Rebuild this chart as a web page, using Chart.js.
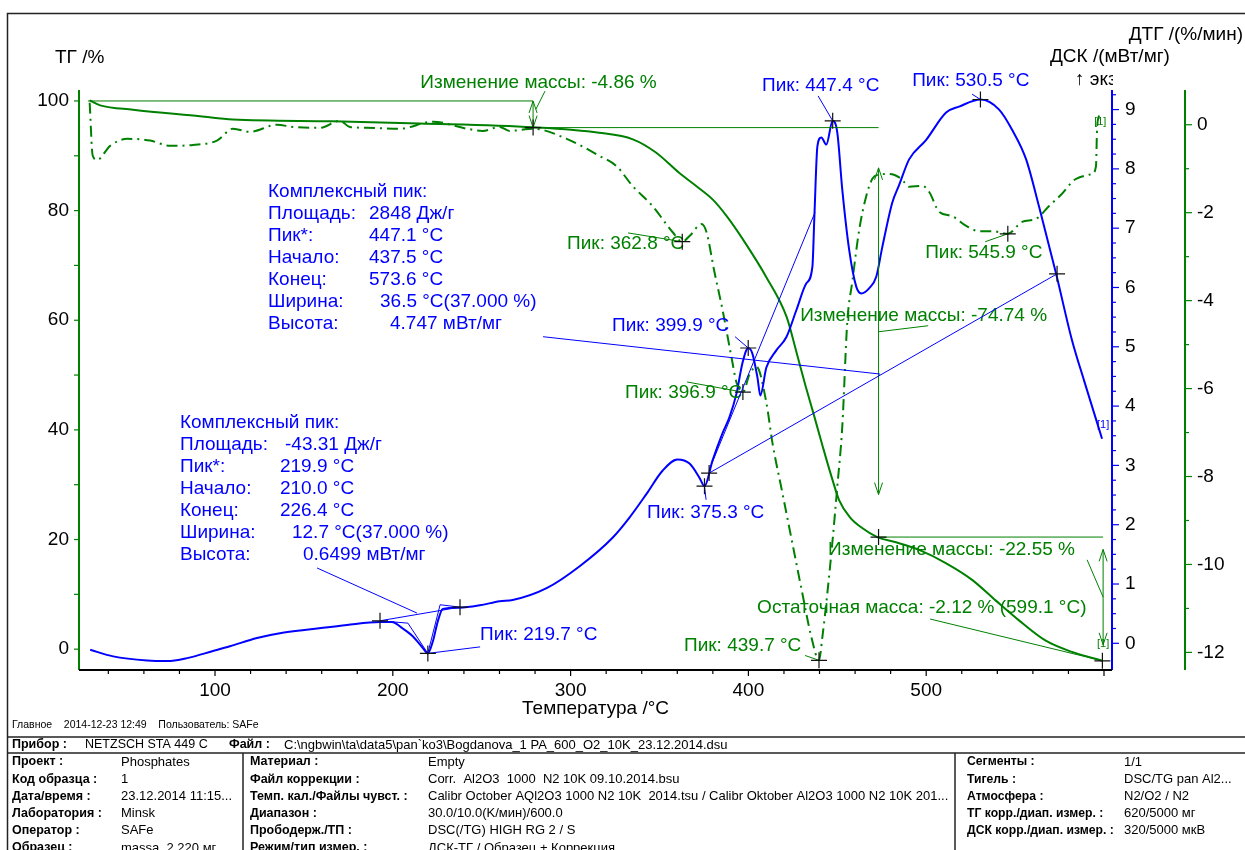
<!DOCTYPE html>
<html lang="ru">
<head>
<meta charset="UTF-8">
<title>NETZSCH STA 449 C - ТГ / ДТГ / ДСК</title>
<script src="https://cdn.jsdelivr.net/npm/chart.js"></script>
<style>
body{margin:0;background:#fff;}
#wrap{position:relative;width:1245px;height:850px;overflow:hidden;}
canvas{display:block;}
</style>
</head>
<body>
<div id="wrap"><canvas id="sta" width="1245" height="850"></canvas></div>
<script>

// ---- data ----
const tempTicks = [100, 200, 300, 400, 500];
const tgTicks = [0, 20, 40, 60, 80, 100];
const dscTicks = [0, 1, 2, 3, 4, 5, 6, 7, 8, 9];
const dtgTicks = [0, -2, -4, -6, -8, -10, -12];

// ТГ /%
const tgTemp = [29.5, 35.4, 53.9, 91.6, 110, 166, 215, 279, 316, 335, 348, 361, 371, 380, 388, 397, 410, 421.5, 427, 432, 436.5, 441.6, 447, 451, 457, 464, 472.5, 483, 496, 511, 526, 539, 552, 567, 582, 599.1];
const tgMass = [100.1, 99.2, 98.4, 97.2, 96.6, 96.3, 95.9, 95.2, 94.2, 93.0, 90.6, 86.9, 84.4, 82.0, 78.9, 74.7, 67.9, 60.6, 54.2, 48.2, 43.1, 37.2, 31.2, 27.2, 24.1, 22.1, 20.45, 19.5, 18.1, 15.7, 12.6, 8.9, 5.3, 1.6, -0.5, -2.12];

// ДТГ /(%/мин)
const dtgTemp = [29.5, 31.2, 33.7, 41, 50.6, 63.5, 74.7, 87.6, 101.1, 110.1, 119.7, 134.8, 143.8, 159, 170.2, 175.8, 185.4, 203.9, 222.5, 241.6, 250.6, 260.1, 265.7, 278.7, 297.8, 316.3, 325.8, 334.8, 346.1, 357.3, 362.8, 366.9, 373.6, 376.4, 380.9, 385.4, 390.4, 393.3, 396.9, 400.6, 404.5, 410.1, 413.5, 419.1, 424.7, 430.3, 435.4, 439.7, 441.6, 444.4, 447.2, 450, 452.8, 455.6, 458.4, 462.4, 466.3, 469.7, 472.5, 479.2, 486, 490.4, 497.8, 501.7, 507.3, 514.6, 522.5, 529.8, 537.1, 545.9, 553.9, 561.8, 569.1, 576.4, 584.3, 593.3, 595.5, 596.1, 597.2];
const dtgRate = [0.5, -0.7, -0.8, -0.48, -0.32, -0.36, -0.48, -0.46, -0.36, -0.09, -0.16, 0, -0.05, -0.07, 0.09, -0.05, -0.07, -0.09, 0.07, -0.09, -0.14, -0.05, -0.14, -0.09, -0.32, -0.71, -0.94, -1.39, -1.85, -2.44, -2.66, -2.53, -2.26, -2.44, -3.35, -4.2, -5.27, -5.86, -6.08, -5.68, -5.5, -6.32, -7.23, -8.37, -9.51, -10.65, -11.65, -12.18, -11.65, -10.65, -9.51, -8.23, -6.86, -4.49, -3.58, -2.37, -1.62, -1.23, -1.14, -1.12, -1.23, -1.41, -1.39, -1.53, -1.98, -2.08, -2.3, -2.42, -2.42, -2.48, -2.21, -2.14, -1.85, -1.57, -1.23, -1.12, -0.94, -0.09, 0.21];

// ДСК /(мВт/мг)
const dscTemp = [29.8, 42.7, 61.8, 73, 84.3, 98.9, 108.4, 123.6, 136.5, 155.1, 174.2, 192.7, 199.4, 205.6, 211.2, 216.9, 219.7, 222.5, 225.3, 228.1, 237.6, 248.9, 260.1, 267.4, 286.5, 305.1, 323.6, 333.1, 342.7, 351.7, 360.1, 366.9, 372.5, 375.3, 379.8, 385.4, 389.3, 393.3, 396.6, 399.9, 402.2, 405.1, 406.7, 410.1, 415.7, 421.3, 427, 432.6, 436, 437.1, 438.8, 441, 443.8, 447.4, 450, 452.8, 456.7, 460.7, 463.5, 468, 471.9, 475.3, 480.9, 484.8, 490.4, 500, 511.2, 518.5, 530.5, 541, 548.3, 556.2, 563.5, 573, 582, 588.8, 598.9];
const dscFlow = [-0.11, -0.22, -0.29, -0.3, -0.25, -0.13, -0.05, 0.09, 0.17, 0.24, 0.31, 0.36, 0.36, 0.25, 0.12, -0.08, -0.17, 0.03, 0.37, 0.58, 0.6, 0.64, 0.71, 0.73, 0.93, 1.3, 1.78, 2.12, 2.52, 2.91, 3.1, 3.03, 2.79, 2.65, 3.08, 3.54, 3.81, 4.21, 4.72, 4.98, 4.89, 4.48, 4.18, 4.65, 4.94, 5.16, 5.62, 6.07, 6.35, 7.19, 8.38, 8.53, 8.41, 8.81, 8.61, 7.65, 6.63, 6.01, 5.9, 5.99, 6.18, 6.68, 7.43, 7.73, 8.16, 8.49, 8.95, 9.05, 9.17, 9.0, 8.66, 8.16, 7.36, 6.24, 5.11, 4.43, 3.45];

[[tgTemp, tgMass, 'tg'], [dtgTemp, dtgRate, 'dtg'], [dscTemp, dscFlow, 'dsc']].forEach(([a, b, n]) => {
    if (a.length !== b.length) throw new Error(n + ' length mismatch ' + a.length + ' / ' + b.length);
});

// ---- annotations (in data units of their axis) ----
const BLUE = '#0000ff';
const GREEN = '#008000';
const FONT = '"Liberation Sans", Arial, sans-serif';

const notes = [
    // mass changes on TG
    {axis:'yTG', color:GREEN, lines:[
        [[28.5,100],[278.9,100]],
        [[278.9,95.14],[473.2,95.14]],
        [[473.2,20.45],[599.5,20.45]],
        [[280.5,98.5],[285.6,101.8]],
        [[473.2,57.9],[501.1,59.0]],
        [[599.5,9.5],[590.5,16.3]],
        [[502.2,5.5],[599.1,-2.12]]
    ], arrows:[[278.9,100,95.14],[473.2,87.8,28.2],[599.5,18.2,0.8]],
    crosses:[[278.9,95.14],[473.2,20.45],[599.1,-2.12]],
    texts:[
        [215.5,103.3,'Изменение массы: -4.86 %'],
        [429.1,60.8,'Изменение массы: -74.74 %'],
        [444.8,18.1,'Изменение массы: -22.55 %'],
        [404.9,7.5,'Остаточная масса: -2.12 % (599.1 °C)']
    ], small:[[599.5,1.0,'[1]']]},
    // DTG peaks
    {axis:'yDTG', color:GREEN, lines:[
        [[332.3,-2.46],[362.8,-2.66]],
        [[365.5,-5.85],[396.9,-6.08]],
        [[431.9,-12.07],[439.7,-12.18]],
        [[533.2,-2.66],[545.9,-2.48]]
    ], arrows:[],
    crosses:[[362.8,-2.66],[396.9,-6.08],[439.7,-12.18],[545.9,-2.48]],
    texts:[
        [298,-2.71,'Пик: 362.8 °C'],
        [330.6,-6.10,'Пик: 396.9 °C'],
        [363.8,-11.86,'Пик: 439.7 °C'],
        [499.4,-2.91,'Пик: 545.9 °C']
    ], small:[[597.9,0.07,'[1]']]},
    // DSC peaks and integrations
    {axis:'yDSC', color:BLUE, lines:[
        [[219.7,-0.17],[249.1,-0.06]],
        [[192.8,0.38],[237.8,0.61]],
        [[192.8,0.38],[208.5,0.34],[219.7,-0.17],[226.6,0.65],[237.8,0.61]],
        [[157.4,1.27],[213.6,0.51]],
        [[284.5,5.17],[474.1,4.54]],
        [[377.9,2.87],[573.6,6.23]],
        [[377.9,2.92],[437.5,7.27]],
        [[375.3,2.65],[376.2,2.42]],
        [[392.5,5.17],[399.9,4.98]],
        [[439.2,9.23],[447.4,8.81]],
        [[525.8,9.26],[530.5,9.17]]
    ], arrows:[],
    crosses:[[219.7,-0.17],[192.8,0.38],[237.8,0.61],[377.9,2.87],[573.6,6.23],[375.3,2.65],[399.9,4.98],[447.4,8.81],[530.5,9.17]],
    texts:[
        [249.1,0.14,'Пик: 219.7 °C'],
        [343.0,2.20,'Пик: 375.3 °C'],
        [323.3,5.35,'Пик: 399.9 °C'],
        [407.7,9.40,'Пик: 447.4 °C'],
        [492.1,9.48,'Пик: 530.5 °C']
    ], small:[[599.5,3.68,'[1]']]}
];

const peakBlocks = [
    {t:129.8, v:7.61, rows:[
        ['Комплексный пик:','',0],
        ['Площадь:','2848 Дж/г',101],
        ['Пик*:','447.1 °C',101],
        ['Начало:','437.5 °C',101],
        ['Конец:','573.6 °C',101],
        ['Ширина:','36.5 °C(37.000 %)',112],
        ['Высота:','4.747 мВт/мг',122]
    ]},
    {t:80.3, v:3.72, rows:[
        ['Комплексный пик:','',0],
        ['Площадь:','-43.31 Дж/г',105],
        ['Пик*:','219.9 °C',100],
        ['Начало:','210.0 °C',100],
        ['Конец:','226.4 °C',100],
        ['Ширина:','12.7 °C(37.000 %)',112],
        ['Высота:','0.6499 мВт/мг',123]
    ]}
];

const footer = {
    head: 'Главное    2014-12-23 12:49    Пользователь: SAFe',
    left: [['Проект :','Phosphates'],['Код образца :','1'],['Дата/время :','23.12.2014 11:15...'],['Лаборатория :','Minsk'],['Оператор :','SAFe'],['Образец :','massa, 2.220 мг']],
    mid: [['Материал :','Empty'],['Файл коррекции :','Corr.  Al2O3  1000  N2 10K 09.10.2014.bsu'],['Темп. кал./Файлы чувст. :','Calibr October AQl2O3 1000 N2 10K  2014.tsu / Calibr Oktober Al2O3 1000 N2 10K 201...'],['Диапазон :','30.0/10.0(K/мин)/600.0'],['Прободерж./ТП :','DSC(/TG) HIGH RG 2 / S'],['Режим/тип измер. :','ДСК-ТГ / Образец + Коррекция']],
    right: [['Сегменты :','1/1'],['Тигель :','DSC/TG pan Al2...'],['Атмосфера :','N2/O2 / N2'],['ТГ корр./диап. измер. :','620/5000 мг'],['ДСК корр./диап. измер. :','320/5000 мкВ']]
};

// ---- helpers ----
function toXY(ts, vs){ return ts.map((t,i) => ({x:t, y:vs[i]})); }

function pt(chart, axis, t, v){
    return [chart.scales.x.getPixelForValue(t), chart.scales[axis].getPixelForValue(v)];
}

function crossAt(ctx, x, y){
    ctx.save();
    ctx.strokeStyle = '#111';
    ctx.lineWidth = 1.2;
    ctx.beginPath();
    ctx.moveTo(x-8, y); ctx.lineTo(x+8, y);
    ctx.moveTo(x, y-8); ctx.lineTo(x, y+8);
    ctx.stroke();
    ctx.restore();
}

function arrowHead(ctx, x, y, dir){
    ctx.beginPath();
    ctx.moveTo(x-4, y - dir*12);
    ctx.lineTo(x, y);
    ctx.lineTo(x+4, y - dir*12);
    ctx.stroke();
}

function footText(ctx, str, x, y, bold, size){
    ctx.font = (bold ? 'bold ' : '') + size + 'px ' + FONT;
    ctx.fillText(str, x, y);
}

const annotate = {
    id:'annotate',
    afterDatasetsDraw(chart){
        const ctx = chart.ctx;
        ctx.save();
        notes.forEach(n => {
            ctx.strokeStyle = n.color;
            ctx.lineWidth = 1;
            n.lines.forEach(seg => {
                ctx.beginPath();
                seg.forEach((p,i) => {
                    const [x,y] = pt(chart, n.axis, p[0], p[1]);
                    if (i === 0) ctx.moveTo(x,y); else ctx.lineTo(x,y);
                });
                ctx.stroke();
            });
            n.arrows.forEach(a => {
                const [x,y1] = pt(chart, n.axis, a[0], a[1]);
                const y2 = chart.scales[n.axis].getPixelForValue(a[2]);
                ctx.beginPath(); ctx.moveTo(x,y1); ctx.lineTo(x,y2); ctx.stroke();
                arrowHead(ctx, x, y1, -1);
                arrowHead(ctx, x, y2, 1);
            });
            ctx.fillStyle = n.color;
            ctx.font = '19px ' + FONT;
            ctx.textBaseline = 'middle';
            ctx.textAlign = 'left';
            n.texts.forEach(tx => {
                const [x,y] = pt(chart, n.axis, tx[0], tx[1]);
                ctx.fillText(tx[2], x, y);
            });
            ctx.font = '11px ' + FONT;
            ctx.textAlign = 'center';
            n.small.forEach(tx => {
                const [x,y] = pt(chart, n.axis, tx[0], tx[1]);
                ctx.fillText(tx[2], x, y);
            });
            n.crosses.forEach(c => {
                const [x,y] = pt(chart, n.axis, c[0], c[1]);
                crossAt(ctx, x, y);
            });
        });

        ctx.fillStyle = BLUE;
        ctx.font = '19px ' + FONT;
        ctx.textAlign = 'left';
        ctx.textBaseline = 'middle';
        peakBlocks.forEach(b => {
            const [x0,y0] = pt(chart, 'yDSC', b.t, b.v);
            b.rows.forEach((r,i) => {
                ctx.fillText(r[0], x0, y0 + i*22);
                if (r[1]) ctx.fillText(r[1], x0 + r[2], y0 + i*22);
            });
        });
        ctx.restore();
    },
    afterDraw(chart){
        const ctx = chart.ctx;
        const a = chart.chartArea;
        const sx = chart.scales.x, tg = chart.scales.yTG, dsc = chart.scales.yDSC, dtg = chart.scales.yDTG;
        ctx.save();
        ctx.lineWidth = 1.2;

        // x ticks every 20 °C
        ctx.strokeStyle = '#000';
        for (let t = 40; t <= 600; t += 20){
            const x = sx.getPixelForValue(t);
            ctx.beginPath(); ctx.moveTo(x, a.bottom); ctx.lineTo(x, a.bottom + (t % 100 === 0 ? 6 : 4)); ctx.stroke();
        }
        // TG ticks every 10 %
        ctx.strokeStyle = GREEN;
        for (let v = 0; v <= 100; v += 10){
            const y = tg.getPixelForValue(v);
            ctx.beginPath(); ctx.moveTo(a.left - 5, y); ctx.lineTo(a.left, y); ctx.stroke();
        }
        // DSC ticks every 0.25
        ctx.strokeStyle = BLUE;
        for (let v = 0; v <= 9.25; v += 0.25){
            const y = dsc.getPixelForValue(v);
            ctx.beginPath(); ctx.moveTo(a.right, y); ctx.lineTo(a.right + (v % 1 === 0 ? 7 : 4), y); ctx.stroke();
        }
        // DTG ticks every 1
        ctx.strokeStyle = GREEN;
        const dtgX = dtg.left;
        for (let v = -12; v <= 0; v += 1){
            const y = dtg.getPixelForValue(v);
            ctx.beginPath(); ctx.moveTo(dtgX, y); ctx.lineTo(dtgX + (v % 2 === 0 ? 7 : 4), y); ctx.stroke();
        }

        // axis lines
        ctx.lineWidth = 2;
        ctx.strokeStyle = GREEN;
        ctx.beginPath(); ctx.moveTo(a.left, a.top); ctx.lineTo(a.left, a.bottom); ctx.stroke();
        ctx.beginPath(); ctx.moveTo(dtgX, a.top); ctx.lineTo(dtgX, a.bottom); ctx.stroke();
        ctx.strokeStyle = BLUE;
        ctx.beginPath(); ctx.moveTo(a.right, a.top); ctx.lineTo(a.right, a.bottom); ctx.stroke();
        ctx.strokeStyle = '#000';
        ctx.beginPath(); ctx.moveTo(a.left, a.bottom); ctx.lineTo(a.right, a.bottom); ctx.stroke();

        // axis titles
        ctx.fillStyle = '#000';
        ctx.font = '19px ' + FONT;
        ctx.textBaseline = 'middle';
        ctx.textAlign = 'left';
        ctx.fillText('ТГ /%', 55, 58);
        ctx.fillText('ДСК /(мВт/мг)', 1050, 57);
        ctx.textAlign = 'right';
        ctx.fillText('ДТГ /(%/мин)', 1243, 35);
        ctx.save();
        ctx.beginPath(); ctx.rect(0, 0, a.right + 1, 200); ctx.clip();
        ctx.textAlign = 'left';
        ctx.fillText('↑ экзо', 1075, 80);
        ctx.restore();

        // frame and info table
        ctx.strokeStyle = '#222';
        ctx.lineWidth = 1.5;
        ctx.strokeRect(7.5, 13.5, 1245, 850);
        [737, 753].forEach(y => { ctx.beginPath(); ctx.moveTo(7, y); ctx.lineTo(1245, y); ctx.stroke(); });
        [243, 955].forEach(x => { ctx.beginPath(); ctx.moveTo(x, 753); ctx.lineTo(x, 850); ctx.stroke(); });

        ctx.fillStyle = '#000';
        ctx.textAlign = 'left';
        ctx.textBaseline = 'middle';
        footText(ctx, footer.head, 12, 725, false, 10.5);
        footText(ctx, 'Прибор :', 12, 745, true, 12.5);
        footText(ctx, 'NETZSCH STA 449 C', 85, 745, false, 12.5);
        footText(ctx, 'Файл :', 229, 745, true, 12.5);
        footText(ctx, 'C:\\ngbwin\\ta\\data5\\pan`ko3\\Bogdanova_1 PA_600_O2_10K_23.12.2014.dsu', 284, 745, false, 13);
        const rowY = i => 762 + i*17.2;
        footer.left.forEach((r,i) => { footText(ctx, r[0], 12, rowY(i), true, 12.5); footText(ctx, r[1], 121, rowY(i), false, 13); });
        footer.mid.forEach((r,i) => { footText(ctx, r[0], 250, rowY(i), true, 12.5); footText(ctx, r[1], 428, rowY(i), false, 13); });
        footer.right.forEach((r,i) => { footText(ctx, r[0], 967, rowY(i), true, 12.2); footText(ctx, r[1], 1124, rowY(i), false, 13); });
        ctx.restore();
    }
};

const tickFont = {family: FONT, size: 19};

const chart = new Chart(document.getElementById('sta'), {
    type:'line',
    data:{
        datasets:[
            {label:'ДСК', data:toXY(dscTemp, dscFlow), yAxisID:'yDSC', borderColor:BLUE, borderWidth:2, pointRadius:0, cubicInterpolationMode:'monotone'},
            {label:'ТГ', data:toXY(tgTemp, tgMass), yAxisID:'yTG', borderColor:GREEN, borderWidth:2, pointRadius:0, cubicInterpolationMode:'monotone'},
            {label:'ДТГ', data:toXY(dtgTemp, dtgRate), yAxisID:'yDTG', borderColor:GREEN, borderWidth:2, borderDash:[11,5,2,5], pointRadius:0, cubicInterpolationMode:'monotone'}
        ]
    },
    options:{
        responsive:false,
        animation:false,
        devicePixelRatio:1,
        layout:{padding:{left:0, right:0, top:90, bottom:120}},
        plugins:{legend:{display:false}, tooltip:{enabled:false}},
        scales:{
            x:{
                type:'linear', position:'bottom', min:23.5, max:604.5,
                grid:{display:false, drawTicks:false}, border:{display:false},
                afterBuildTicks: s => { s.ticks = tempTicks.map(v => ({value:v})); },
                afterFit: s => { s.height = 60; },
                ticks:{font:tickFont, color:'#000', padding:9, autoSkip:false, maxRotation:0, callback:v => String(v)},
                title:{display:true, text:'Температура /°C', font:tickFont, color:'#000', padding:{top:0, bottom:10}}
            },
            yTG:{
                type:'linear', position:'left', min:-3.8, max:102,
                grid:{display:false, drawTicks:false}, border:{display:false},
                afterBuildTicks: s => { s.ticks = tgTicks.map(v => ({value:v})); },
                afterFit: s => { s.width = 79; },
                ticks:{font:tickFont, color:'#000', padding:10, autoSkip:false, callback:v => String(v)}
            },
            yDSC:{
                type:'linear', position:'right', weight:0, min:-0.45, max:9.33,
                grid:{display:false, drawTicks:false}, border:{display:false},
                afterBuildTicks: s => { s.ticks = dscTicks.map(v => ({value:v})); },
                afterFit: s => { s.width = 73; },
                ticks:{font:tickFont, color:'#000', padding:13, autoSkip:false, callback:v => String(v)}
            },
            yDTG:{
                type:'linear', position:'right', weight:1, min:-12.4, max:0.79,
                grid:{display:false, drawTicks:false}, border:{display:false},
                afterBuildTicks: s => { s.ticks = dtgTicks.map(v => ({value:v})); },
                afterFit: s => { s.width = 60; },
                ticks:{font:tickFont, color:'#000', padding:12, autoSkip:false, callback:v => String(v)}
            }
        }
    },
    plugins:[annotate]
});

</script>
</body>
</html>
